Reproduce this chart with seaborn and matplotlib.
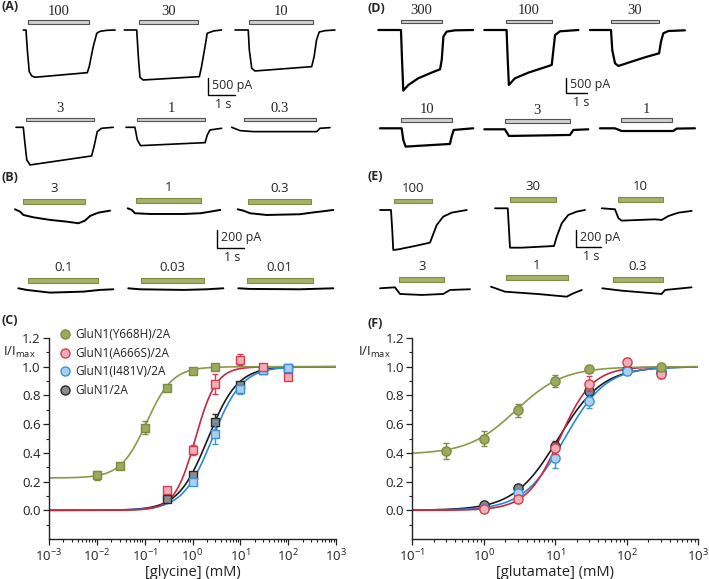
import numpy as np
import pandas as pd
import matplotlib
matplotlib.use("Agg")
import matplotlib.pyplot as plt
import seaborn as sns
from matplotlib.patches import Rectangle
from matplotlib.lines import Line2D
from matplotlib import ticker

# ---------------- data: current traces (time in s, current in pA) ----------------
A_labels = ["100", "30", "10", "3", "1", "0.3"]
A_t = [[0, 0.10, 0.15, 0.22, 0.31, 0.43, 2.37, 2.44, 2.59, 2.72, 2.84, 3.09, 3.40],
       [0, 0.46, 0.52, 0.58, 0.70, 2.78, 2.86, 2.99, 3.07, 3.30, 3.60],
       [0, 0.49, 0.53, 0.62, 0.74, 2.84, 2.93, 3.02, 3.12, 3.33, 3.70],
       [0, 0.27, 0.33, 0.40, 0.52, 2.80, 2.89, 3.01, 3.17, 3.60],
       [0, 0.33, 0.42, 0.54, 2.93, 3.01, 3.11, 3.54],
       [0, 0.31, 0.80, 3.15, 3.27, 3.64]]
A_i = [[0, 0, -590, -1225, -1350, -1390, -1255, -1080, -490, -98, -39, -10, 0],
       [0, 0, -784, -1392, -1470, -1372, -1078, -490, -98, -29, 0],
       [0, 0, -588, -1127, -1205, -1078, -784, -294, -59, -20, 0],
       [0, 0, -470, -960, -1107, -843, -568, -127, -29, 0],
       [0, 0, -372, -539, -451, -225, -78, -29],
       [0, -98, -127, -127, -29, -10]]
A_on = [0.16, 0.54, 0.53, 0.36, 0.42, 0.47]
A_off = [2.44, 2.72, 2.90, 2.90, 2.93, 3.12]

D_labels = ["300", "100", "30", "10", "3", "1"]
D_t = [[0, 1.08, 1.13, 1.19, 1.43, 1.90, 2.54, 2.94, 3.02, 3.10, 3.25, 3.65, 4.52],
       [0, 1.06, 1.11, 1.17, 1.46, 2.10, 2.73, 3.21, 3.29, 3.37, 3.60, 4.48],
       [0, 1.00, 1.06, 1.19, 1.35, 1.98, 2.62, 3.29, 3.38, 3.49, 3.73, 4.52],
       [0, 1.03, 1.11, 1.22, 3.33, 3.41, 3.51, 4.44],
       [0, 0.98, 1.17, 4.08, 4.24, 4.95],
       [0, 0.71, 1.03, 3.49, 3.65, 4.52]]
D_i = [[0, 0, -1000, -2020, -1832, -1610, -1420, -1310, -999, -222, -55, -11, 0],
       [0, 0, -888, -1832, -1610, -1420, -1277, -1166, -666, -167, -44, 0],
       [0, 0, -666, -1110, -1199, -1054, -910, -777, -389, -111, -33, -11],
       [0, 0, -389, -610, -522, -278, -55, 0],
       [0, 0, -222, -189, -22, 0],
       [0, 0, -90, -90, -10, 0]]
D_on = [1.08, 1.03, 1.00, 1.00, 0.98, 0.98]
D_off = [3.05, 3.21, 3.29, 3.44, 4.08, 3.44]

B_labels = ["3", "1", "0.3", "0.1", "0.03", "0.01"]
B_t = [[0, 0.19, 0.31, 0.68, 1.30, 1.91, 2.35, 2.59, 2.78, 3.09, 3.52],
       [0, 0.15, 0.27, 0.83, 2.07, 2.69, 3.06, 3.43],
       [0, 0.21, 0.46, 1.07, 2.30, 2.74, 3.16, 3.54],
       [0, 0.31, 1.17, 2.41, 3.02, 3.52],
       [0, 0.43, 2.04, 2.91, 3.52],
       [0, 0.43, 2.28, 3.52]]
B_i = [[0, -26, -63, -89, -118, -137, -155, -126, -74, -37, -15],
       [0, -18, -55, -63, -63, -55, -37, -18],
       [0, -15, -44, -63, -55, -37, -22, -7],
       [0, -18, -48, -37, -18, -11],
       [0, -11, -18, -11, 0],
       [0, -7, -11, 0]]
B_on = [0.28, 0.30, 0.40, 0.37, 0.47, 0.31]
B_off = [2.59, 2.72, 2.70, 2.96, 2.81, 2.75]

E_labels = ["100", "30", "10", "3", "1", "0.3"]
E_t = [[0, 0.44, 0.49, 0.53, 0.73, 1.40, 2.00, 2.09, 2.27, 2.53, 2.87, 3.47],
       [0, 0.51, 0.56, 0.60, 1.07, 2.36, 2.47, 2.67, 2.93, 3.27, 3.60],
       [0, 0.53, 0.67, 0.80, 2.13, 2.40, 2.67, 3.07, 3.60],
       [0, 0.60, 0.80, 1.67, 2.53, 2.80, 3.60],
       [0, 0.56, 1.89, 3.03, 3.29, 3.63],
       [0, 0.77, 2.37, 2.51, 3.57]]
E_i = [[0, 0, -229, -457, -450, -411, -373, -305, -171, -76, -30, 0],
       [0, 0, -248, -450, -450, -431, -324, -171, -76, -38, -19],
       [0, -11, -114, -141, -126, -133, -88, -50, -30],
       [0, 11, -65, -76, -65, -19, -11],
       [0, -57, -84, -114, -76, -38],
       [0, -27, -65, -19, 11]]
E_on = [0.57, 0.60, 0.64, 0.77, 0.60, 0.41]
E_off = [2.07, 2.43, 2.47, 2.57, 3.07, 2.44]

# ---------------- data: concentration-response ----------------
variants = ["GluN1(Y668H)/2A", "GluN1(A666S)/2A", "GluN1(I481V)/2A", "GluN1/2A"]

gly_conc_Y668H = [0.01, 0.03, 0.1, 0.3, 1, 3]
gly_Y668H = [0.244, 0.309, 0.574, 0.855, 0.970, 1.0]
gly_Y668H_err = [0.03, 0.02, 0.045, 0.02, 0.015, 0.02]
gly_conc_A666S = [0.3, 1, 3, 10, 30, 100]
gly_A666S = [0.143, 0.42, 0.88, 1.05, 1.0, 0.927]
gly_A666S_err = [0.02, 0.035, 0.07, 0.04, 0.02, 0.02]
gly_conc_I481V = [1, 3, 10, 30, 100]
gly_I481V = [0.20, 0.534, 0.843, 0.974, 0.99]
gly_I481V_err = [0.025, 0.075, 0.03, 0.02, 0.02]
gly_conc_WT = [0.3, 1, 3, 10, 30, 100]
gly_WT = [0.077, 0.244, 0.616, 0.874, 0.98, 0.99]
gly_WT_err = [0.015, 0.02, 0.055, 0.02, 0.02, 0.02]
gly_ec50 = [0.11, 1.15, 2.6, 2.1]
gly_nh = [1.6, 2.0, 1.4, 1.4]
gly_bottom = [0.225, 0.0, 0.0, 0.0]

glu_conc_Y668H = [0.3, 1, 3, 10, 30, 300]
glu_Y668H = [0.411, 0.50, 0.697, 0.899, 0.982, 1.0]
glu_Y668H_err = [0.055, 0.05, 0.045, 0.04, 0.02, 0.02]
glu_conc_A666S = [1, 3, 10, 30, 100, 300]
glu_A666S = [0.01, 0.08, 0.432, 0.883, 1.034, 0.95]
glu_A666S_err = [0.01, 0.02, 0.04, 0.05, 0.03, 0.03]
glu_conc_I481V = [1, 3, 10, 30, 100, 300]
glu_I481V = [0.018, 0.12, 0.363, 0.76, 0.968, 0.968]
glu_I481V_err = [0.01, 0.02, 0.065, 0.05, 0.02, 0.03]
glu_conc_WT = [1, 3, 10, 30, 100, 300]
glu_WT = [0.04, 0.156, 0.45, 0.83, 0.98, 0.96]
glu_WT_err = [0.01, 0.02, 0.03, 0.03, 0.02, 0.02]
glu_ec50 = [2.8, 11.5, 13.5, 11.0]
glu_nh = [1.3, 1.9, 1.5, 1.4]
glu_bottom = [0.39, 0.0, 0.0, 0.0]

# ---------------- styling ----------------
line_cols = ["#8a9a4a", "#c8283e", "#2a8ad8", "#1a1a1a"]
fill_cols = ["#9aab5c", "#f2aeb6", "#a9cff2", "#8c8c8c"]
edge_cols = ["#7d8c42", "#d04050", "#3d92d8", "#2a2a2a"]

sns.set_theme(style="ticks")
plt.rcParams['font.family'] = ['Open Sans', 'DejaVu Sans']
plt.rcParams['mathtext.default'] = 'regular'
SERIF = ['Liberation Serif', 'DejaVu Serif']

W, H = 709, 579
fig = plt.figure(figsize=(W / 100, H / 100), dpi=100)


def fx(px):
    return px / W


def fy(py):
    return 1 - py / H


# ---------------- trace panels ----------------
def trace_panel(labels, ts, cur, on, off, pos, px_s, px_pa, bar_off, lab_off,
                bar_h, bar_fc, bar_ec, lab_font, lab_size, lw, sb_corner, sb_pa):
    ax = fig.add_axes([0, 0, 1, 1], facecolor='none')
    for k in range(len(labels)):
        x0 = pos[k][0] / px_s
        y0 = -pos[k][1] / px_pa
        df = pd.DataFrame({"t": np.array(ts[k]) + x0, "i": np.array(cur[k]) + y0})
        sns.lineplot(data=df, x="t", y="i", ax=ax, color="black", linewidth=lw,
                     sort=False, estimator=None)
        ybar = -(pos[k][1] - bar_off) / px_pa
        hb = bar_h / px_pa
        ax.add_patch(Rectangle((x0 + on[k], ybar - hb / 2), off[k] - on[k], hb,
                               facecolor=bar_fc, edgecolor=bar_ec, linewidth=0.8))
        ax.text(x0 + (on[k] + off[k]) / 2, -(pos[k][1] - lab_off) / px_pa, labels[k],
                ha='center', va='center', fontsize=lab_size, family=lab_font)
    cx = sb_corner[0] / px_s
    cy = -sb_corner[1] / px_pa
    ax.plot([cx, cx, cx + 1.0], [cy + sb_pa, cy, cy], color='black', lw=1.0,
            solid_joinstyle='miter')
    ax.text(cx + 4 / px_s, cy + sb_pa / 2 + 1.5 / px_pa, f"{sb_pa} pA", ha='left',
            va='center', fontsize=9)
    ax.text(cx + 15 / px_s, cy - 9 / px_pa, "1 s", ha='center', va='center', fontsize=9)
    ax.set_xlim(0, W / px_s)
    ax.set_ylim(-H / px_pa, 0)
    ax.axis('off')
    return ax


A_pos = [(23.3, 30), (124.3, 30), (235, 30), (16, 127.3), (126, 127.3), (231.7, 127.3)]
D_pos = [(378.3, 30), (484.3, 30), (590, 30), (380, 128.3), (484.3, 129.3), (600, 128.3)]
B_pos = [(15, 209.3), (127.7, 208.3), (237.7, 209.3), (18.3, 288.3), (128.3, 288.3), (238.3, 288.3)]
E_pos = [(380, 210), (495, 208.3), (601.7, 208.3), (380, 288.3), (491, 286.7), (602.3, 288.3)]

trace_panel(A_labels, A_t, A_i, A_on, A_off, A_pos, 27, 17 / 500, 8, 18.5, 3.4,
            "#cfcfcf", "#505050", SERIF, 10.5, 1.2, (208.3, 95), 500)
trace_panel(D_labels, D_t, D_i, D_on, D_off, D_pos, 21, 15 / 500, 8.5, 19, 3.4,
            "#cfcfcf", "#505050", SERIF, 10.5, 1.6, (565.7, 93.3), 500)
trace_panel(B_labels, B_t, B_i, B_on, B_off, B_pos, 27, 18 / 200, 8, 21, 4.5,
            "#a4b26a", "#7f8c45", ['Open Sans'], 9.5, 1.4, (217.3, 248.3), 200)
trace_panel(E_labels, E_t, E_i, E_on, E_off, E_pos, 25, 17.5 / 200, 9, 21.5, 4.5,
            "#a4b26a", "#7f8c45", ['Open Sans'], 9.5, 1.3, (575.7, 247.3), 200)


# ---------------- concentration-response panels ----------------
def dr_panel(px_left, px_right, xlim, concs, vals, errs, ec50, nh, bottom, marker, ms, xlabel):
    top, bot = 338, 539
    ax = fig.add_axes([fx(px_left), fy(bot), (px_right - px_left) / W, (bot - top) / H])
    ax.set_xscale('log')
    xs = np.logspace(np.log10(xlim[0]), np.log10(xlim[1]), 400)
    order = [3, 2, 1, 0]
    for k in order:
        ys = bottom[k] + (1 - bottom[k]) / (1 + (ec50[k] / xs) ** nh[k])
        sns.lineplot(x=xs, y=ys, ax=ax, color=line_cols[k], linewidth=1.2, zorder=2)
    for j, k in enumerate(order):
        ax.errorbar(concs[k], vals[k], yerr=errs[k], fmt='none', ecolor=edge_cols[k],
                    elinewidth=1.0, capsize=2.5, capthick=1.0, zorder=3 + j * 0.2)
        sns.scatterplot(x=concs[k], y=vals[k], ax=ax, marker=marker, s=ms,
                        color=fill_cols[k], edgecolor=edge_cols[k], linewidth=1.0,
                        zorder=3.1 + j * 0.2, legend=False)
    ax.set_xlim(*xlim)
    ax.set_ylim(-0.2, 1.2)
    lo, hi = int(np.log10(xlim[0])), int(np.log10(xlim[1]))
    majors = [10.0 ** e for e in range(lo, hi + 1)]
    minors = [m * 10.0 ** e for e in range(lo, hi) for m in range(2, 10)]
    ax.xaxis.set_major_locator(ticker.FixedLocator(majors))
    ax.xaxis.set_major_formatter(ticker.LogFormatterSciNotation())
    ax.xaxis.set_minor_locator(ticker.FixedLocator(minors))
    ax.xaxis.set_minor_formatter(ticker.NullFormatter())
    ax.set_yticks([0.0, 0.2, 0.4, 0.6, 0.8, 1.0, 1.2])
    ax.set_yticklabels(["0.0", "0.2", "0.4", "0.6", "0.8", "1.0", "1.2"])
    ax.yaxis.set_minor_locator(ticker.FixedLocator([-0.1, 0.1, 0.3, 0.5, 0.7, 0.9, 1.1]))
    ax.tick_params(axis='both', which='major', direction='out', length=4, width=0.9,
                   labelsize=9.5, pad=2, color='#222222', labelcolor='#222222')
    ax.tick_params(axis='both', which='minor', direction='out', length=2.5, width=0.8,
                   color='#222222')
    for s in ['top', 'right']:
        ax.spines[s].set_visible(False)
    for s in ['left', 'bottom']:
        ax.spines[s].set_linewidth(1.0)
        ax.spines[s].set_color('#222222')
    ax.set_xlabel(xlabel, fontsize=10.5, labelpad=1, color='#222222')
    ax.set_ylabel("")
    ax.set_facecolor('none')
    ax.grid(False)
    return ax


axC = dr_panel(49, 336, (1e-3, 1e3),
               [gly_conc_Y668H, gly_conc_A666S, gly_conc_I481V, gly_conc_WT],
               [gly_Y668H, gly_A666S, gly_I481V, gly_WT],
               [gly_Y668H_err, gly_A666S_err, gly_I481V_err, gly_WT_err],
               gly_ec50, gly_nh, gly_bottom, 's', 36, "[glycine] (mM)")
axF = dr_panel(412.3, 698.3, (1e-1, 1e3),
               [glu_conc_Y668H, glu_conc_A666S, glu_conc_I481V, glu_conc_WT],
               [glu_Y668H, glu_A666S, glu_I481V, glu_WT],
               [glu_Y668H_err, glu_A666S_err, glu_I481V_err, glu_WT_err],
               glu_ec50, glu_nh, glu_bottom, 'o', 44, "[glutamate] (mM)")

# y-axis labels
fig.text(fx(3), fy(352), r"I/I$_{max}$", fontsize=9.5, ha='left', va='center', color='#222222')
fig.text(fx(358), fy(352), r"I/I$_{max}$", fontsize=9.5, ha='left', va='center', color='#222222')

# legend
handles = [Line2D([0], [0], linestyle='none', marker='o', markersize=6.5,
                  markerfacecolor=fill_cols[k], markeredgecolor=edge_cols[k],
                  markeredgewidth=1.0) for k in range(4)]
leg = fig.legend(handles, variants, loc='upper left', bbox_to_anchor=(fx(60), fy(328)),
                 frameon=False, fontsize=8.5, handlelength=0.9, handletextpad=0.35,
                 labelspacing=0.48, borderpad=0, borderaxespad=0)
for t in leg.get_texts():
    t.set_color('#222222')

# panel letters
for lab, x, y in [("(A)", 2, 7), ("(B)", 2, 177.5), ("(C)", 2, 320),
                  ("(D)", 367, 8), ("(E)", 367, 176.7), ("(F)", 367, 323.3)]:
    fig.text(fx(x), fy(y), lab, fontsize=9, fontweight='bold', ha='left', va='center')

fig.savefig("out.png", dpi=100)
